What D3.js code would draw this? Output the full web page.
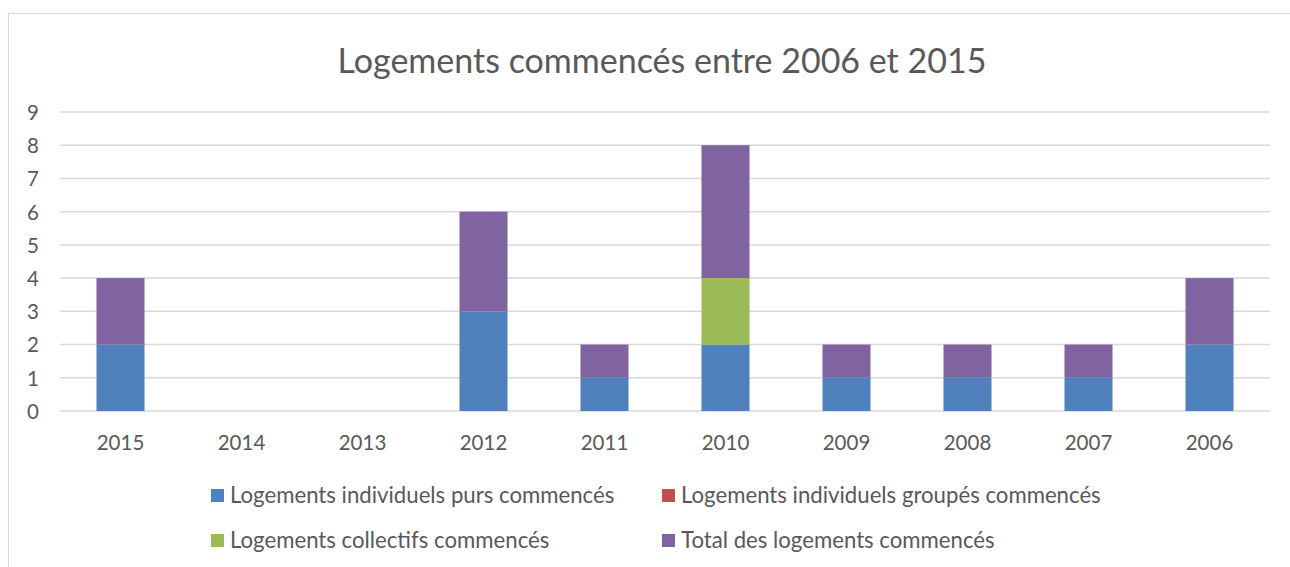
<!DOCTYPE html>
<html>
<head>
<meta charset="utf-8">
<script src="https://cdn.jsdelivr.net/npm/d3@7"></script>
<style>
  body { margin: 0; background: #fff; }
  svg text { font-family: Lato, "Open Sans", sans-serif; fill: #595959; }
</style>
</head>
<body>
<svg id="chart" width="1290" height="567"></svg>
<script>
const years = ['2015','2014','2013','2012','2011','2010','2009','2008','2007','2006'];
const purs       = [2, 0, 0, 3, 1, 2, 1, 1, 1, 2];
const groupes    = [0, 0, 0, 0, 0, 0, 0, 0, 0, 0];
const collectifs = [0, 0, 0, 0, 0, 2, 0, 0, 0, 0];
const total      = [2, 0, 0, 3, 1, 4, 1, 1, 1, 2];
const seriesNames = ['Logements individuels purs commencés', 'Logements individuels groupés commencés',
                     'Logements collectifs commencés', 'Total des logements commencés'];
const seriesKeys = ['purs', 'groupes', 'collectifs', 'total'];
const colors = ['#4F81BD', '#C0504D', '#9BBB59', '#8064A2'];
const yTicks = [0,1,2,3,4,5,6,7,8,9];

const table = years.map((y, i) => ({year: y, purs: purs[i], groupes: groupes[i], collectifs: collectifs[i], total: total[i]}));

const svg = d3.select('#chart');

// cadre
svg.append('rect')
  .attr('x', 8.5).attr('y', 13.5)
  .attr('width', 1400).attr('height', 700)
  .attr('fill', 'none').attr('stroke', '#D9D9D9').attr('stroke-width', 1.2);

const plot = {left: 60, right: 1270, top: 112, bottom: 411};

const x = d3.scaleBand().domain(years).range([plot.left, plot.right]).paddingInner(0).paddingOuter(0);
const y = d3.scaleLinear().domain([0, 9]).range([plot.bottom, plot.top]);
const barW = x.bandwidth() * 0.397;

// grille
svg.append('g')
  .selectAll('line')
  .data(yTicks)
  .join('line')
  .attr('x1', plot.left).attr('x2', plot.right)
  .attr('y1', d => y(d)).attr('y2', d => y(d))
  .attr('stroke', '#D9D9D9').attr('stroke-width', 1.5);

// axe y
const yAxis = svg.append('g')
  .attr('transform', `translate(${plot.left},0)`)
  .call(d3.axisLeft(y).tickValues(yTicks).tickSize(0).tickPadding(21));
yAxis.select('.domain').remove();
yAxis.selectAll('text').attr('font-size', 20.5).attr('dy', '0.36em').style('fill', '#595959');

// axe x
const xAxis = svg.append('g')
  .attr('transform', `translate(0,${plot.bottom})`)
  .call(d3.axisBottom(x).tickSize(0));
xAxis.select('.domain').remove();
xAxis.selectAll('text').attr('font-size', 20.5).attr('y', 39).attr('dy', null).style('fill', '#595959');

// barres empilées
const stack = d3.stack().keys(seriesKeys)(table);
svg.append('g')
  .selectAll('g')
  .data(stack)
  .join('g')
  .attr('fill', (d, i) => colors[i])
  .selectAll('rect')
  .data(d => d)
  .join('rect')
  .attr('x', d => x(d.data.year) + (x.bandwidth() - barW) / 2)
  .attr('width', barW)
  .attr('y', d => y(d[1]))
  .attr('height', d => y(d[0]) - y(d[1]));

// titre
svg.append('text')
  .attr('x', 662).attr('y', 73)
  .attr('text-anchor', 'middle')
  .attr('font-size', 34)
  .text('Logements commencés entre 2006 et 2015');

// légende
const legendPos = [[211, 489], [662, 489], [211, 534], [662, 534]];
const leg = svg.append('g')
  .selectAll('g')
  .data(seriesNames)
  .join('g')
  .attr('transform', (d, i) => `translate(${legendPos[i][0]},${legendPos[i][1]})`);
leg.append('rect')
  .attr('width', 13).attr('height', 13)
  .attr('fill', (d, i) => colors[i]);
leg.append('text')
  .attr('x', 19).attr('y', 14)
  .attr('font-size', 22.2)
  .text(d => d);
</script>
</body>
</html>
